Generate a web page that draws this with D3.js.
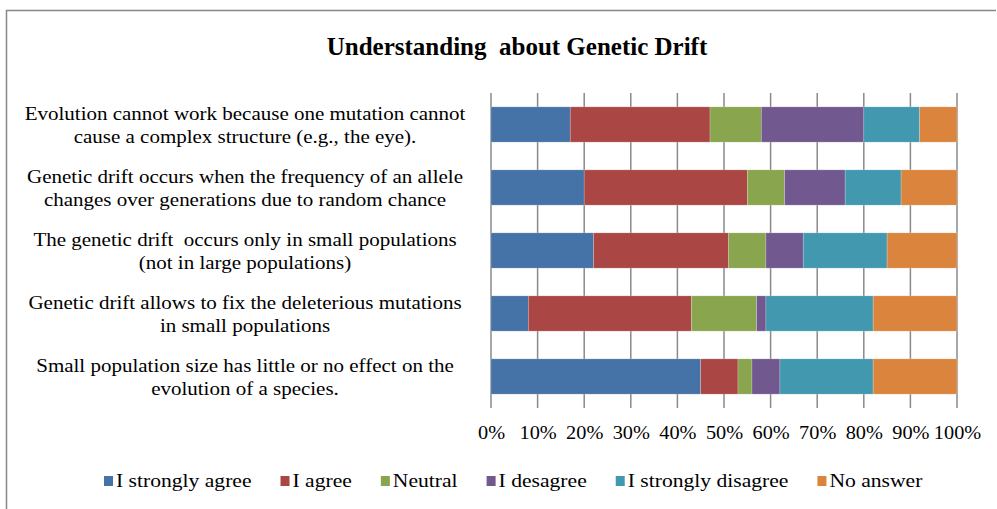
<!DOCTYPE html>
<html><head><meta charset="utf-8">
<script src="https://cdn.jsdelivr.net/npm/d3@7/dist/d3.min.js"></script>
<style>
html,body{margin:0;padding:0;background:#fff;}
svg{display:block;}
text{font-family:"Liberation Serif","Times New Roman",serif;fill:#000;}
</style></head>
<body><svg id="c" width="997" height="509"></svg>
<script>
const title = "Understanding  about Genetic Drift";
const categories = [
  ["Evolution cannot work because one mutation cannot", "cause a complex structure (e.g., the eye)."],
  ["Genetic drift occurs when the frequency of an allele", "changes over generations due to random chance"],
  ["The genetic drift  occurs only in small populations", "(not in large populations)"],
  ["Genetic drift allows to fix the deleterious mutations", "in small populations"],
  ["Small population size has little or no effect on the", "evolution of a species."]
];
const seriesNames = ["I strongly agree", "I agree", "Neutral", "I desagree", "I strongly disagree", "No answer"];
const stronglyAgree    = [17, 20, 22, 8, 45];
const agree            = [30, 35, 29, 35, 8];
const neutral          = [11, 8, 8, 14, 3];
const disagree         = [22, 13, 8, 2, 6];
const stronglyDisagree = [12, 12, 18, 23, 20];
const noAnswer         = [8, 12, 15, 18, 18];
const tickValues = [0,10,20,30,40,50,60,70,80,90,100];
const colors = ["#4572A7", "#AA4643", "#89A54E", "#71588F", "#4198AF", "#DB843D"];

const series = [stronglyAgree, agree, neutral, disagree, stronglyDisagree, noAnswer];
const rows = categories.map((c, i) => {
  const r = {idx: i};
  seriesNames.forEach((s, j) => r[s] = series[j][i]);
  return r;
});
const stacked = d3.stack().keys(seriesNames)(rows);

const svg = d3.select("#c");
// frame
svg.append("path").attr("d", "M6.5,509 L6.5,10.5 L996,10.5")
  .attr("fill", "none").attr("stroke", "#878787").attr("stroke-width", 1.5);

svg.append("text").attr("x", 517).attr("y", 55).attr("text-anchor", "middle")
  .style("white-space", "pre").attr("xml:space", "preserve")
  .attr("font-size", 25).attr("font-weight", "bold").text(title);

const x = d3.scaleLinear().domain([0, 100]).range([491, 957]);
const y = d3.scaleBand().domain(d3.range(categories.length)).range([93, 408]).paddingInner(0.44).paddingOuter(0.22);

// grid
svg.append("g").selectAll("line").data(tickValues).join("line")
  .attr("x1", d => x(d)).attr("x2", d => x(d))
  .attr("y1", 93).attr("y2", 408)
  .attr("stroke", "#8a8a8a").attr("stroke-width", 1.5);

// axis labels
const xAxis = d3.axisBottom(x).tickValues(tickValues).tickFormat(d => d + "%").tickSize(0).tickPadding(0);
const gx = svg.append("g").attr("transform", "translate(0,439)").call(xAxis);
gx.select(".domain").remove();
gx.selectAll(".tick text").attr("font-size", 19).attr("font-family", "Liberation Serif").attr("fill", "#000")
  .attr("dy", 0).attr("y", 0).attr("transform", "scale(1.07,1)");

// bars
svg.append("g").selectAll("g").data(stacked).join("g")
  .attr("fill", (d, i) => colors[i])
  .selectAll("rect").data(d => d).join("rect")
  .attr("x", d => x(d[0])).attr("width", d => x(d[1]) - x(d[0]))
  .attr("y", d => y(d.data.idx)).attr("height", y.bandwidth())
  .attr("stroke", "rgba(255,255,255,0.35)").attr("stroke-width", 0.6);

// category labels
const lab = svg.append("g").selectAll("text").data(categories).join("text")
  .attr("text-anchor", "middle").attr("font-size", 18)
  .style("white-space", "pre").attr("xml:space", "preserve")
  .attr("transform", (d, i) => `translate(245,${y(i) + y.bandwidth()/2}) scale(1.167,1)`);
lab.selectAll("tspan").data(d => d).join("tspan")
  .attr("x", 0).attr("y", (d, j) => j * 23 - 4.5).text(d => d);

// legend
const sx = 1.2;
const lg = svg.append("g");
const items = lg.selectAll("g").data(seriesNames).join("g");
items.append("rect").attr("width", 9).attr("height", 10).attr("y", -11).attr("fill", (d, i) => colors[i]);
items.append("text").attr("x", 0).attr("y", 0).attr("font-size", 18)
  .attr("transform", `translate(12,0) scale(${sx},1)`).text(d => d);
let cx = 0; const pos = [];
items.each(function(d) {
  pos.push(cx);
  const w = 12 + sx * d3.select(this).select("text").node().getComputedTextLength();
  cx += w + 29;
});
const startX = 104;
items.attr("transform", (d, i) => `translate(${startX + pos[i]},487)`);
</script></body></html>
